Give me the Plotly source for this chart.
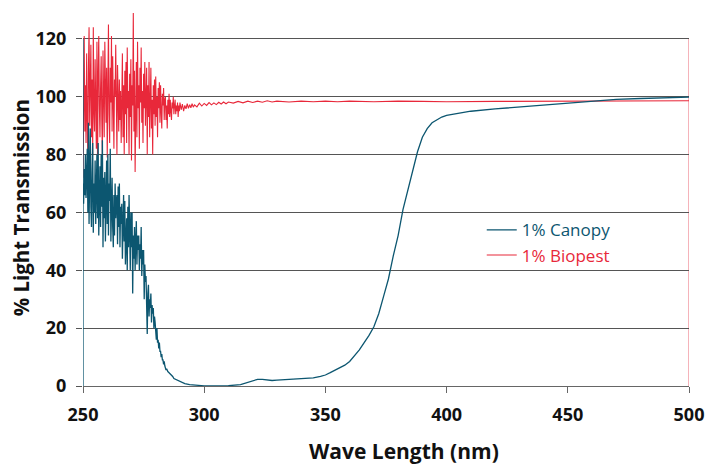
import plotly.graph_objects as go

# ---- data ----
# 1% Biopest: dense noisy part, 0.25 nm steps from 250 to 289.75
biopest_noisy_start = 250.0
biopest_noisy_step = 0.25
biopest_noisy_pct = [
    72, 96, 121, 88, 104, 84, 115, 93,
    78, 110, 124, 90, 99, 118, 86, 106,
    80, 124, 95, 88, 113, 101, 82, 119,
    76, 108, 121, 97, 86, 103, 114, 92,
    80, 116, 99, 86, 119, 104, 91, 110,
    79, 102, 125, 94, 84, 110, 98, 121,
    88, 114, 96, 82, 106, 100, 118, 90,
    80, 111, 97, 88, 106, 92, 102, 84,
    98, 115, 86, 104, 80, 109, 94, 112,
    84, 117, 96, 102, 80, 108, 93, 113,
    78, 104, 97, 129, 88, 109, 74, 100,
    112, 86, 119, 96, 104, 82, 110, 98,
    117, 91, 102, 84, 108, 96, 112, 90,
    98, 110, 80, 104, 93, 112, 86, 101,
    110, 89, 99, 80, 104, 94, 106, 90,
    107, 93, 100, 86, 103, 96, 105, 91,
    104, 95, 89, 101, 97, 103, 92, 99,
    100, 92, 97, 89, 99, 94, 101, 93,
    99, 95, 92, 98, 96, 100, 94, 97,
    99, 94, 97, 95, 98, 93, 97, 95,
]
biopest_tail_nm = [290.0, 290.5, 291.0, 291.5, 292.0, 292.5, 293.0, 293.5, 294.0, 294.5,
                   295.0, 295.5, 296.0, 297.0, 298.0, 299.0, 300.0, 301.0, 302.0, 303.0,
                   304.0, 305.0, 306.0, 307.0, 308.0, 309.0, 310.0, 312.0, 314.0, 316.0,
                   318.0, 320.0, 322.0, 324.0, 326.0, 328.0, 330.0, 335.0, 340.0, 345.0,
                   350.0, 355.0, 360.0, 370.0, 380.0, 390.0, 400.0, 420.0, 440.0, 460.0,
                   480.0, 500.0]
biopest_tail_pct = [98, 95.5, 97.5, 95, 97, 95.8, 97.6, 96, 97.3, 96.2,
                    97.6, 96.4, 97.2, 96.5, 97.8, 96.8, 97.7, 97.0, 98.0, 97.2,
                    97.9, 97.3, 98.1, 97.5, 98.2, 97.6, 98.2, 97.8, 98.4, 97.9,
                    98.5, 98.0, 98.5, 98.1, 98.6, 98.2, 98.5, 98.2, 98.5, 98.3,
                    98.5, 98.3, 98.5, 98.3, 98.5, 98.4, 98.3, 98.4, 98.5, 98.4,
                    98.6, 98.6]

# 1% Canopy: dense noisy part, 0.25 nm steps from 250 to 284.75
canopy_noisy_start = 250.0
canopy_noisy_step = 0.25
canopy_noisy_pct = [
    70, 63, 75, 66,
    80, 65, 72, 82,
    60, 91, 56, 78,
    89, 62, 55, 74,
    84, 53, 70, 60,
    78, 56, 66, 80,
    58, 84, 52, 70,
    76, 55, 80, 62,
    85, 48, 72, 58,
    74, 50, 66, 78,
    56, 80, 52, 70,
    64, 82, 50, 68,
    72, 55, 48, 66,
    52, 70, 58, 64,
    66, 49, 69, 55,
    70, 48, 62, 56,
    63, 44, 58, 66,
    50, 64, 42, 56,
    58, 40, 62, 48,
    66, 54, 40, 60,
    48, 60, 32, 52,
    44, 55, 40, 50,
    57, 42, 52, 47,
    52, 40, 49, 44,
    55, 38, 47, 42,
    47, 30, 42, 36,
    38, 28, 18, 32,
    35, 24, 30, 27,
    32, 22, 28, 25,
    27, 20, 24, 22,
    19, 16, 20, 15,
    16, 13, 15, 12,
    12, 10, 11, 9,
    9, 7.5, 8.5, 7,
    6.5, 5.5, 6, 5,
]
canopy_tail_nm = [285.0, 285.5, 286.0, 286.5, 287.0, 287.5, 288.0, 289.0, 290.0, 291.0,
                  292.0, 294.0, 296.0, 298.0, 300.0, 305.0, 310.0, 315.0, 318.0, 320.0,
                  322.0, 324.0, 326.0, 328.0, 330.0, 335.0, 340.0, 345.0, 348.0, 350.0,
                  352.0, 355.0, 358.0, 360.0, 362.0, 364.0, 366.0, 368.0, 370.0, 372.0,
                  374.0, 376.0, 378.0, 380.0, 382.0, 384.0, 386.0, 388.0, 390.0, 392.0,
                  394.0, 396.0, 398.0, 400.0, 405.0, 410.0, 420.0, 430.0, 440.0, 450.0,
                  460.0, 470.0, 480.0, 490.0, 500.0]
canopy_tail_pct = [5, 4.6, 4.2, 3.5, 3.3, 2.6, 2.4, 1.8, 1.4, 1.1,
                   0.8, 0.5, 0.3, 0.15, 0.05, 0.0, 0.1, 0.5, 1.2, 1.8,
                   2.3, 2.3, 2.0, 1.9, 2.0, 2.2, 2.4, 2.8, 3.3, 3.8,
                   4.6, 5.8, 7.2, 8.5, 10.5, 12.5, 15, 17.5, 20.5, 25,
                   31, 37, 45, 52, 61, 68, 75, 81, 86, 89,
                   91, 92, 93, 93.6, 94.4, 95, 95.8, 96.5, 97.2, 97.9,
                   98.6, 99.1, 99.4, 99.7, 99.9]

x_ticks = [250, 300, 350, 400, 450, 500]
y_ticks = [0, 20, 40, 60, 80, 100, 120]

biopest_nm = [biopest_noisy_start + i * biopest_noisy_step for i in range(len(biopest_noisy_pct))] + biopest_tail_nm
biopest_pct = biopest_noisy_pct + biopest_tail_pct
canopy_nm = [canopy_noisy_start + i * canopy_noisy_step for i in range(len(canopy_noisy_pct))] + canopy_tail_nm
canopy_pct = canopy_noisy_pct + canopy_tail_pct

TEAL = "#0c5670"
RED = "#e8283a"
FONT = "Open Sans"

fig = go.Figure()
fig.add_trace(go.Scatter(
    x=biopest_nm, y=biopest_pct, mode="lines",
    name=f"<span style='color:{RED}'>1% Biopest</span>",
    line=dict(color=RED, width=1.1), legendrank=2))
fig.add_trace(go.Scatter(
    x=canopy_nm, y=canopy_pct, mode="lines",
    name=f"<span style='color:{TEAL}'>1% Canopy</span>",
    line=dict(color=TEAL, width=1.3), legendrank=1))

# left axis line (teal) and right border (light red)
fig.add_shape(type="line", xref="x", yref="y", x0=250, x1=250, y0=0, y1=120,
              line=dict(color=TEAL, width=1.3), layer="above")
fig.add_shape(type="line", xref="x", yref="y", x0=500, x1=500, y0=0, y1=120,
              line=dict(color="#f29aa3", width=1.5), layer="below")

fig.add_annotation(text="<b>Wave Length (nm)</b>", xref="paper", yref="paper",
                   x=0.53, y=-0.174, xanchor="center", yanchor="middle", showarrow=False,
                   font=dict(family=FONT, size=21, color="#111"))
fig.add_annotation(text="<b>% Light Transmission</b>", xref="paper", yref="paper",
                   x=-0.102, y=0.473, xanchor="center", yanchor="middle", showarrow=False,
                   textangle=-90, font=dict(family=FONT, size=20.5, color="#111"))

fig.update_layout(
    width=708, height=466,
    margin=dict(l=83, r=19, t=10, b=80),
    paper_bgcolor="white", plot_bgcolor="white",
    showlegend=True,
    legend=dict(x=0.658, y=0.462, xanchor="left", yanchor="top",
                bgcolor="rgba(0,0,0,0)",
                font=dict(family=FONT, size=17)),
    xaxis=dict(range=[250, 500], tickvals=x_ticks, ticktext=[str(v) for v in x_ticks],
               automargin=False,
               showgrid=False, zeroline=False,
               showline=True, linecolor="#666", linewidth=1,
               ticks="outside", ticklen=6, tickcolor="#666",
               ticklabelstandoff=6,
               tickfont=dict(family=FONT, size=18, color="#111", weight="bold")),
    yaxis=dict(range=[0, 130], tickvals=y_ticks, ticktext=[str(v) for v in y_ticks],
               automargin=False,
               showgrid=True, gridcolor="#555", gridwidth=1, zeroline=False,
               showline=False,
               ticks="outside", ticklen=6, tickcolor="#555",
               ticklabelstandoff=6,
               tickfont=dict(family=FONT, size=18, color="#111", weight="bold")),
)

# remove the default 8px page margin so the 708x466 figure fills the window
fig.write_html("out.html", config={"displayModeBar": False},
               post_script="document.body.style.margin='0';document.body.style.overflow='hidden';")
